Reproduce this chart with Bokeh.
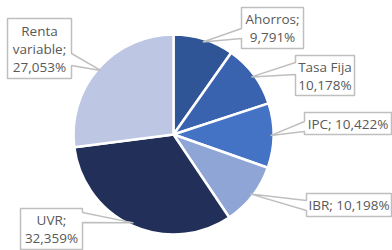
import math
from bokeh.plotting import figure
from bokeh.models import Range1d, ColumnDataSource
from bokeh.core.properties import value
from bokeh.embed import file_html
from bokeh.resources import INLINE

# ---- data ----
categories = ["Ahorros", "Tasa Fija", "IPC", "IBR", "UVR", "Renta variable"]
shares = [9.791, 10.178, 10.422, 10.198, 32.359, 27.053]
colors = ["#2F5597", "#3A63AF", "#4472C4", "#8FA5D6", "#223059", "#BDC7E3"]
label_templates = ["Ahorros;\n{}", "Tasa Fija\n{}", "IPC; {}", "IBR; {}", "UVR;\n{}", "Renta\nvariable;\n{}"]

# ---- layout (image pixel coords; data y = -image y) ----
W, H = 392, 250
cx, cy, R = 173, 134, 100
# box: x0, y0, x1, y1, side, base1, base2
boxes = [
    (241, 7, 303, 48, "left", 28, 38),
    (295, 55, 354, 95, "left", 62, 74),
    (304, 112, 391, 134, "left", 121, 131),
    (306, 193, 391, 216, "left", 200, 210),
    (20, 208, 82, 249, "right", 212, 222),
    (7, 18, 71, 78, "right", 53, 65),
]

p = figure(width=W, height=H, output_backend="svg", toolbar_location=None,
           x_range=Range1d(0, W), y_range=Range1d(-H, 0),
           min_border=0, outline_line_color=None)
p.axis.visible = False
p.grid.visible = False
p.background_fill_color = "white"
p.border_fill_color = "white"

total = sum(shares)
starts, ends, mids = [], [], []
acc = 0.0
for v in shares:
    a0 = math.pi / 2 - 2 * math.pi * acc / total
    acc += v
    a1 = math.pi / 2 - 2 * math.pi * acc / total
    starts.append(a0)
    ends.append(a1)
    mids.append((a0 + a1) / 2)

src = ColumnDataSource(dict(start=starts, end=ends, color=colors, cat=categories))
p.wedge(x=cx, y=-cy, radius=R, start_angle="start", end_angle="end", direction="clock",
        fill_color="color", line_color="white", line_width=2.5, source=src)

xs, ys, tx, ty, texts = [], [], [], [], []
for i, (x0, y0, x1, y1, side, b1, b2) in enumerate(boxes):
    tipx = cx + (R - 3) * math.cos(mids[i])
    tipy = cy - (R - 3) * math.sin(mids[i])
    if side == "left":
        pts = [(x0, y0), (x1, y0), (x1, y1), (x0, y1), (x0, b2), (tipx, tipy), (x0, b1)]
    else:
        pts = [(x0, y0), (x1, y0), (x1, b1), (tipx, tipy), (x1, b2), (x1, y1), (x0, y1)]
    xs.append([q[0] for q in pts])
    ys.append([-q[1] for q in pts])
    tx.append((x0 + x1) / 2)
    ty.append(-(y0 + y1) / 2)
    texts.append(label_templates[i].format(f"{shares[i]:.3f}".replace(".", ",") + "%"))

p.patches(xs=xs, ys=ys, fill_color="white", line_color="#BFBFBF", line_width=1.5)
p.text(x=tx, y=ty, text=texts, text_align="center", text_baseline="middle",
       text_font=value("Open Sans"), text_font_size="13.5px", text_color="#595959",
       text_line_height=1.0)

open("out.html", "w").write(file_html(p, INLINE))
